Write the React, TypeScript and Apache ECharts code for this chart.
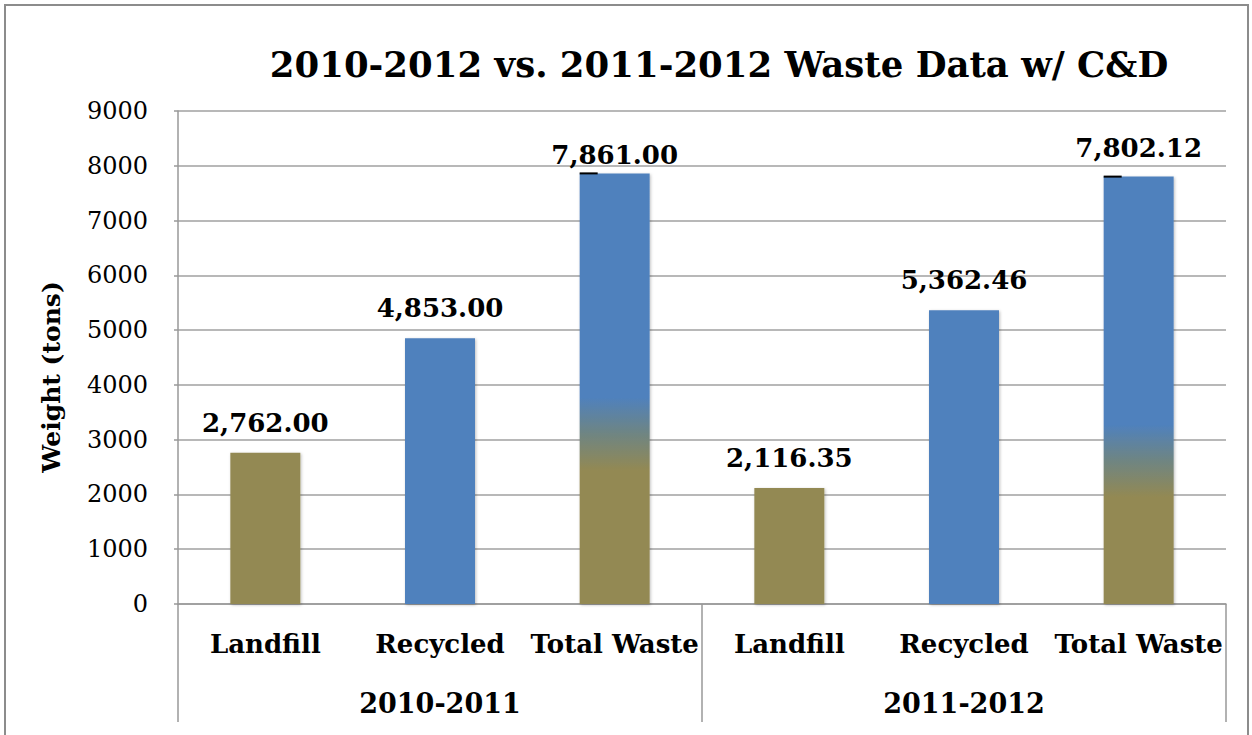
import React, { useEffect, useRef } from "react";
import * as echarts from "echarts";

const categories = ["Landfill", "Recycled", "Total Waste", "Landfill", "Recycled", "Total Waste"];
const groups = ["2010-2011", "2011-2012"];
const values = [2762.0, 4853.0, 7861.0, 2116.35, 5362.46, 7802.12];
const kinds = ["landfill", "recycled", "total", "landfill", "recycled", "total"];
const yTicks = { min: 0, max: 9000, interval: 1000 };
const title = "2010-2012 vs. 2011-2012 Waste Data w/ C&D";
const yName = "Weight (tons)";

const BLUE = "#4f81bd";
const OLIVE = "#938953";
const FONT = "'DejaVu Serif', 'Liberation Serif', serif";

export default function App() {
  const ref = useRef<HTMLDivElement>(null);
  useEffect(() => {
    document.body.style.margin = "0";
    if (!ref.current) return;
    const chart = echarts.init(ref.current, undefined, { renderer: "svg" });
    const gradStops: Record<number, [number, number]> = { 2: [0.52, 0.69], 5: [0.58, 0.75] };
    const labelDist = [17, 17, 5, 17, 17, 16];
    const BAR_W = 70;
    const data = values.map((v, i) => {
      let color: any = kinds[i] === "landfill" ? OLIVE : BLUE;
      if (kinds[i] === "total") {
        const [a, b] = gradStops[i];
        color = new echarts.graphic.LinearGradient(0, 0, 0, 1, [
          { offset: 0, color: BLUE },
          { offset: a, color: BLUE },
          { offset: (a + b) / 2, color: "#6f8582" },
          { offset: b, color: OLIVE },
          { offset: 1, color: OLIVE },
        ]);
      }
      return { value: v, itemStyle: { color }, label: { distance: labelDist[i] } };
    });
    const baseGraphics: any[] = [
      {
        type: "rect",
        shape: { x: 5, y: 5, width: 1243, height: 760 },
        style: { fill: "none", stroke: "#8c8c8c", lineWidth: 2 },
        silent: true,
      },
      {
        type: "text",
        x: 51,
        y: 377,
        rotation: Math.PI / 2,
        style: {
          text: yName,
          fontFamily: FONT,
          fontWeight: "bold",
          fontSize: 25,
          fill: "#000",
          align: "center",
          verticalAlign: "middle",
        },
        silent: true,
      },
    ];
    chart.setOption({
      animation: false,
      backgroundColor: "#ffffff",
      title: {
        text: title,
        left: 714,
        textAlign: "center",
        top: 41,
        textStyle: { fontFamily: FONT, fontWeight: "bold", fontSize: 35.5, color: "#000" },
      },
      graphic: baseGraphics,
      grid: { left: 178, right: 26, top: 111, bottom: 131 },
      xAxis: [
        {
          type: "category",
          data: categories,
          position: "bottom",
          axisLine: { show: true, lineStyle: { color: "#999", width: 1.5 } },
          axisTick: { show: false },
          axisLabel: {
            margin: 27,
            fontFamily: FONT,
            fontWeight: "bold",
            fontSize: 26,
            color: "#000",
            interval: 0,
          },
        },
        {
          type: "category",
          data: groups,
          position: "bottom",
          axisLine: { show: false },
          axisTick: { show: true, length: 118, lineStyle: { color: "#999", width: 1.5 } },
          axisLabel: {
            margin: 86,
            fontFamily: FONT,
            fontWeight: "bold",
            fontSize: 27,
            color: "#000",
          },
        },
      ],
      yAxis: {
        type: "value",
        min: yTicks.min,
        max: yTicks.max,
        interval: yTicks.interval,
        axisLine: { show: true, lineStyle: { color: "#999", width: 1.5 } },
        axisTick: { show: true, length: 4, lineStyle: { color: "#999", width: 1.5 } },
        axisLabel: { margin: 30, fontFamily: FONT, fontSize: 24, color: "#000", formatter: (v: number) => String(v) },
        splitLine: { show: true, lineStyle: { color: "#a0a0a0", width: 1.5 } },
      },
      series: [
        {
          type: "bar",
          xAxisIndex: 0,
          barWidth: BAR_W,
          data,
          itemStyle: { shadowColor: "rgba(0,0,0,0.25)", shadowBlur: 3, shadowOffsetX: 1, shadowOffsetY: 1 },
          label: {
            show: true,
            position: "top",
            fontFamily: FONT,
            fontWeight: "bold",
            fontSize: 26,
            color: "#000",
            formatter: (p: any) =>
              Number(p.value).toLocaleString("en-US", { minimumFractionDigits: 2, maximumFractionDigits: 2 }),
          },
        },
      ],
    });
    // small black marks at the top-left of the total bars
    const marks: any[] = [];
    values.forEach((v, i) => {
      if (kinds[i] !== "total") return;
      const p = chart.convertToPixel({ xAxisIndex: 0, yAxisIndex: 0 }, [i, v]) as number[];
      if (!p) return;
      const left = p[0] - BAR_W / 2;
      marks.push({
        type: "line",
        shape: { x1: left, y1: p[1], x2: left + 18, y2: p[1] },
        style: { stroke: "#000", lineWidth: 2 },
        z: 100,
        silent: true,
      });
    });
    chart.setOption({ graphic: [...baseGraphics, ...marks] }, { replaceMerge: ["graphic"] });
    return () => chart.dispose();
  }, []);
  return <div ref={ref} style={{ width: 1252, height: 735 }} />;
}
